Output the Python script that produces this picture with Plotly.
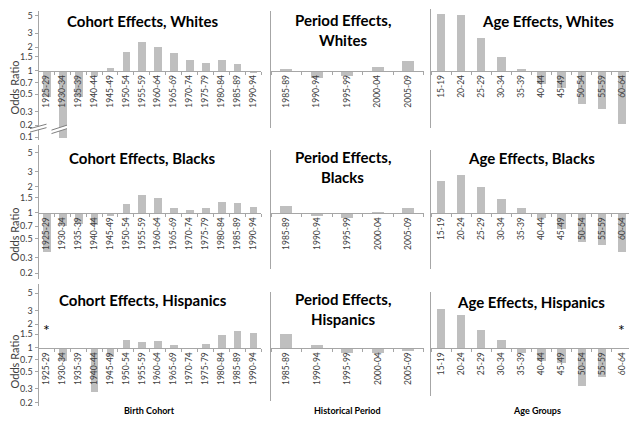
import plotly.graph_objects as go

# ---------------- data ----------------
cohort_labels = ['1925-29', '1930-34', '1935-39', '1940-44', '1945-49', '1950-54', '1955-59',
                 '1960-64', '1965-69', '1970-74', '1975-79', '1980-84', '1985-89', '1990-94']
period_labels = ['1985-89', '1990-94', '1995-99', '2000-04', '2005-09']
age_labels = ['15-19', '20-24', '25-29', '30-34', '35-39', '40-44', '45-49', '50-54', '55-59', '60-64']

# odds ratios (1930-34 Whites drawn on the broken part of the axis)
cohort_whites = [0.46, 0.137, 0.46, 0.86, 1.08, 1.74, 2.29, 2.03, 1.66, 1.38, 1.25, 1.35, 1.23, 0.93]
period_whites = [1.06, 0.81, 0.84, 1.12, 1.34]
age_whites = [5.35, 5.1, 2.6, 1.5, 1.06, 0.68, 0.59, 0.37, 0.32, 0.21]

cohort_blacks = [0.35, 0.70, 0.74, 0.72, 0.92, 1.25, 1.62, 1.50, 1.15, 1.09, 1.15, 1.35, 1.31, 1.18]
period_blacks = [1.20, 0.91, 0.87, 0.96, 1.13]
age_blacks = [2.33, 2.76, 1.99, 1.43, 1.13, 0.88, 0.65, 0.46, 0.43, 0.35]

cohort_hispanics = [None, 0.67, 1.0, 0.27, 0.76, 1.25, 1.19, 1.23, 1.09, 1.0, 1.11, 1.47, 1.62, 1.56]
period_hispanics = [1.49, 1.10, 0.85, 0.86, 0.92]
age_hispanics = [3.14, 2.62, 1.70, 1.25, 0.85, 0.68, 0.64, 0.33, 0.42, None]

ytick_vals = [0.2, 0.3, 0.5, 0.7, 1, 1.5, 2, 3, 5]
ytick_text = ['0.2', '0.3', '0.5', '0.7', '1', '1.5', '2', '3', '5']
break_tick_val = 0.141
break_tick_text = '0.1'

groups = ['Whites', 'Blacks', 'Hispanics']
x_titles = ['Birth Cohort', 'Historical Period', 'Age Groups']

# ---------------- layout helpers ----------------
PAGE_W, PAGE_H = 637, 424
OFF = 8                      # default page body margin
W, H = PAGE_W - OFF, PAGE_H - OFF
FONT = 'Lato, Open Sans, sans-serif'
BAR = '#bfbfbf'
AXC = '#a6a6a6'
TXT = '#404040'

def px_x(v):
    return (v - OFF) / W

def px_y(v):
    return 1 - (v - OFF) / H

col_x = [(38.5, 261.0), (271.0, 423.5), (431.0, 632.0)]
col_width = [0.48, 0.40, 0.42]
row_base = [70.0, 213.3, 349.3]       # page pixel of the value 1
row_ppd = [78.7, 87.0, 79.0]           # pixels per decade
panel_ext = [[(10, 140), (10, 128), (8, 128)],
             [(145, 280), (150, 270), (150, 270)],
             [(285, 408), (293, 403), (293, 398)]]

series = [[cohort_whites, period_whites, age_whites],
          [cohort_blacks, period_blacks, age_blacks],
          [cohort_hispanics, period_hispanics, age_hispanics]]
cats = [cohort_labels, period_labels, age_labels]

fig = go.Figure()
layout = dict(width=W, height=H, margin=dict(l=0, r=0, t=0, b=0),
              paper_bgcolor='white', plot_bgcolor='white', showlegend=False,
              font=dict(family=FONT, color=TXT), bargap=0)
annotations = []
shapes = []

for r in range(3):
    for c in range(3):
        p = r * 3 + c
        s = '' if p == 0 else str(p + 1)
        vals = series[r][c]
        labels = cats[c]
        fig.add_trace(go.Bar(
            x=labels,
            y=[(v - 1) if v is not None else None for v in vals],
            base=1, width=col_width[c], marker_color=BAR, marker_line_width=0,
            xaxis='x' + s, yaxis='y' + s, hoverinfo='skip'))
        top, bot = panel_ext[r][c]
        top = max(top, OFF)
        hi = (row_base[r] - top) / row_ppd[r]
        lo = -(bot - row_base[r]) / row_ppd[r]
        y0, y1 = px_y(bot), px_y(top)
        pos = y0 + (0 - lo) / (hi - lo) * (y1 - y0)
        layout['xaxis' + s] = dict(
            domain=[px_x(col_x[c][0]), min(1, px_x(col_x[c][1]))], anchor='free', position=pos,
            type='category', range=[-0.5, len(labels) - 0.5],
            showline=True, linecolor=AXC, linewidth=1, ticks='outside', ticklen=3,
            tickcolor=AXC, tickson='boundaries', tickangle=-90,
            tickfont=dict(size=8.5, color=TXT, family=FONT),
            showgrid=False, zeroline=False, fixedrange=True)
        ya = dict(domain=[y0, min(1, y1)], anchor='x' + s, type='log', range=[lo, hi],
                  showline=True, linecolor=AXC, linewidth=1, showgrid=False,
                  zeroline=False, fixedrange=True)
        if c == 0:
            tv = list(ytick_vals)
            tt = list(ytick_text)
            if r == 0:
                tv = [break_tick_val] + tv
                tt = [break_tick_text] + tt
            ya.update(tickvals=tv, ticktext=tt, ticks='outside', ticklen=3,
                      tickcolor=AXC, tickfont=dict(size=9, color=TXT, family=FONT))
        else:
            ya.update(showticklabels=False, ticks='')
        layout['yaxis' + s] = ya

# ---------------- titles ----------------
title_font = dict(family=FONT, size=15, color='black')
def add_text(text, x, y, font, angle=0, xanchor='center', yanchor='middle'):
    annotations.append(dict(text=text, x=px_x(x), y=px_y(y), xref='paper', yref='paper',
                            showarrow=False, font=font, textangle=angle,
                            xanchor=xanchor, yanchor=yanchor, borderpad=0))

title_rows = [20, 158, 301]
for r, g in enumerate(groups):
    ty = title_rows[r]
    add_text('<b>Cohort Effects, %s</b>' % g, 142.5, ty, title_font)
    add_text('<b>Period Effects,</b>', 342.5, ty - 1, title_font)
    add_text('<b>%s</b>' % g, 342.5, ty + 19, title_font)
    age_x = 548 if r == 0 else 531
    add_text('<b>Age Effects, %s</b>' % g, age_x, ty + (2 if r == 2 else 0), title_font)

ylab_font = dict(family=FONT, size=11, color=TXT)
for yc in [87, 235, 363]:
    add_text('Odds Ratio', 14, yc, ylab_font, angle=-90)

xt_font = dict(family=FONT, size=9, color='black')
for xc, t in zip([149, 347.5, 536.7], x_titles):
    add_text('<b>%s</b>' % t, xc, 412, xt_font)

# asterisks for missing estimates (Hispanics)
star_font = dict(family=FONT, size=16, color='black')
annotations.append(dict(text='*', x=cohort_labels[0], xref='x7', y=px_y(342), yref='paper',
                        showarrow=False, font=star_font))
annotations.append(dict(text='*', x=age_labels[-1], xref='x9', y=px_y(342), yref='paper',
                        showarrow=False, font=star_font))

# axis-break marks (Whites cohort)
def brk(xa, xb, ya, yb):
    gap = 3.5
    path = 'M %f,%f L %f,%f L %f,%f L %f,%f Z' % (
        px_x(xa), px_y(ya), px_x(xb), px_y(yb),
        px_x(xb), px_y(yb + gap), px_x(xa), px_y(ya + gap))
    shapes.append(dict(type='path', path=path, xref='paper', yref='paper',
                       fillcolor='white', line=dict(width=0), layer='above'))
    for d in (0, gap):
        shapes.append(dict(type='line', x0=px_x(xa), y0=px_y(ya + d), x1=px_x(xb), y1=px_y(yb + d),
                           xref='paper', yref='paper', line=dict(color='#808080', width=1),
                           layer='above'))

brk(30, 46.5, 128.5, 124)
brk(51.5, 67, 130, 125)

layout['annotations'] = annotations
layout['shapes'] = shapes
fig.update_layout(**layout)
fig.write_html('out.html')
